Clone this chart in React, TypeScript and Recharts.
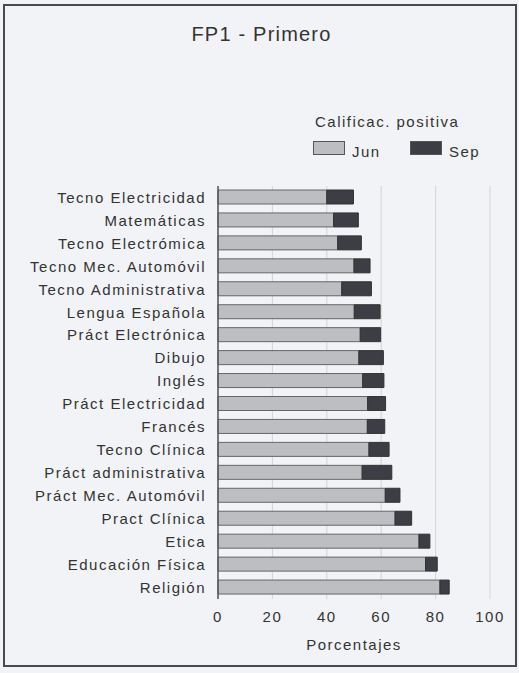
import React from 'react';
import { BarChart, Bar, XAxis, YAxis, CartesianGrid, Legend } from 'recharts';

const categories = [
  'Tecno Electricidad',
  'Matemáticas',
  'Tecno Electrómica',
  'Tecno Mec. Automóvil',
  'Tecno Administrativa',
  'Lengua Española',
  'Práct Electrónica',
  'Dibujo',
  'Inglés',
  'Práct Electricidad',
  'Francés',
  'Tecno Clínica',
  'Práct administrativa',
  'Práct Mec. Automóvil',
  'Pract Clínica',
  'Etica',
  'Educación Física',
  'Religión',
];

const junValues = [40, 42.5, 44, 50, 45.5, 50.1, 52.3, 51.8, 53.2, 55, 54.9, 55.5, 53, 61.5, 65.1, 73.9, 76.3, 81.6];
const sepValues = [9.8, 9.1, 8.7, 5.9, 10.9, 9.5, 7.5, 9, 7.8, 6.6, 6.4, 7.4, 10.9, 5.4, 6.1, 4, 4.3, 3.4];

const xTicks = [0, 20, 40, 60, 80, 100];

const TITLE = 'FP1 - Primero';
const LEGEND_TITLE = 'Calificac. positiva';
const X_LABEL = 'Porcentajes';

const data = categories.map((name, i) => ({ name, jun: junValues[i], sep: sepValues[i] }));

const FONT = '"Liberation Sans", Arial, Helvetica, sans-serif';
const TEXT = '#333333';

const YTick = (props: any) => (
  <text
    x={props.x}
    y={props.y}
    dy="0.355em"
    textAnchor="end"
    fontFamily={FONT}
    fontSize={15}
    letterSpacing={1.5}
    fill={TEXT}
  >
    {props.payload.value}
  </text>
);

const XTick = (props: any) => (
  <text
    x={props.x}
    y={props.y}
    dy="0.71em"
    textAnchor="middle"
    fontFamily={FONT}
    fontSize={15}
    letterSpacing={1.5}
    fill={TEXT}
  >
    {props.payload.value}
  </text>
);

const XLabel = (props: any) => {
  const vb = props.viewBox || {};
  return (
    <text
      x={vb.x + vb.width / 2}
      y={vb.y + vb.height - 1}
      textAnchor="middle"
      fontFamily={FONT}
      fontSize={15}
      letterSpacing={1.5}
      fill={TEXT}
    >
      {X_LABEL}
    </text>
  );
};

const LegendContent = (props: any) => {
  const payload = props.payload || [];
  return (
    <div style={{ position: 'relative', width: 200, height: 50, fontFamily: FONT, fontSize: 15, letterSpacing: 1.5, color: TEXT }}>
      <div style={{ position: 'absolute', left: 2, top: 0, lineHeight: '15px', whiteSpace: 'nowrap' }}>{LEGEND_TITLE}</div>
      {payload.map((p: any, i: number) => (
        <React.Fragment key={p.value}>
          <span
            style={{
              position: 'absolute',
              left: i * 97,
              top: 27,
              width: 30,
              height: 12,
              background: p.color,
              border: '1px solid #555',
            }}
          />
          <span style={{ position: 'absolute', left: i * 97 + 39, top: 30, lineHeight: '15px' }}>{p.value}</span>
        </React.Fragment>
      ))}
    </div>
  );
};

export default function App() {
  return (
    <div style={{ position: 'absolute', left: 0, top: 0, width: 519, height: 673, background: '#f1f3f6', overflow: 'hidden' }}>
      <div
        style={{
          position: 'absolute',
          left: 3,
          top: 4,
          width: 510,
          height: 659,
          border: '2px solid #4a4a4a',
        }}
      />
      <div
        style={{
          position: 'absolute',
          top: 24,
          left: 2,
          width: 519,
          textAlign: 'center',
          fontFamily: FONT,
          fontSize: 20,
          lineHeight: '20px',
          letterSpacing: 1.2,
          color: TEXT,
        }}
      >
        {TITLE}
      </div>
      <div style={{ position: 'absolute', left: 0, top: 0 }}>
        <BarChart
          width={519}
          height={673}
          data={data}
          layout="vertical"
          margin={{ top: 186, right: 29, bottom: 22, left: 0 }}
        >
          <CartesianGrid horizontal={false} vertical={true} stroke="#d2d4d8" />
          <XAxis
            type="number"
            domain={[0, 100]}
            ticks={xTicks}
            axisLine={false}
            tickLine={false}
            tickMargin={6}
            height={52}
            tick={<XTick />}
            label={<XLabel />}
          />
          <YAxis
            type="category"
            dataKey="name"
            width={218}
            tickLine={false}
            tickSize={6}
            tickMargin={6}
            axisLine={{ stroke: '#555', strokeWidth: 1.5 }}
            tick={<YTick />}
            interval={0}
          />
          <Legend
            layout="horizontal"
            verticalAlign="middle"
            align="center"
            wrapperStyle={{ left: 313, top: 114, width: 200, height: 50 }}
            content={<LegendContent />}
          />
          <Bar dataKey="jun" name="Jun" stackId="a" barSize={14} fill="#bdbec2" stroke="#666" strokeWidth={1} isAnimationActive={false} />
          <Bar dataKey="sep" name="Sep" stackId="a" barSize={14} fill="#3d3d45" stroke="#333" strokeWidth={1} isAnimationActive={false} />
        </BarChart>
      </div>
    </div>
  );
}
